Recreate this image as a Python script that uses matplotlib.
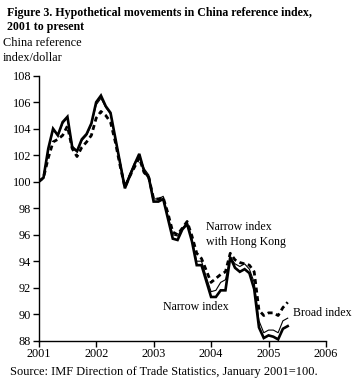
import matplotlib
matplotlib.use("Agg")
import matplotlib.pyplot as plt
import numpy as np

plt.rcParams['font.family'] = ['Liberation Serif', 'DejaVu Serif']

# monthly values, January 2001 = 100
narrow = [100.0, 100.3, 102.5, 104.0, 103.5, 104.5, 104.9, 102.6, 102.3, 103.2,
          103.6, 104.4, 106.0, 106.5, 105.7, 105.2, 103.3, 101.4, 99.5, 100.4,
          101.3, 102.1, 100.8, 100.3, 98.5, 98.5, 98.7, 97.2, 95.7, 95.6,
          96.4, 96.8, 95.5, 93.7, 93.7, 92.5, 91.3, 91.3, 91.8, 91.8,
          94.3, 93.5, 93.2, 93.4, 93.1, 91.9, 89.0, 88.2, 88.4, 88.3,
          88.1, 88.9, 89.1]
narrow_hk = [100.0, 100.3, 102.4, 103.9, 103.5, 104.4, 104.8, 102.7, 102.3, 103.1,
             103.5, 104.3, 105.8, 106.3, 105.6, 105.1, 103.3, 101.5, 99.7, 100.6,
             101.4, 102.0, 101.0, 100.5, 98.7, 98.7, 98.9, 97.4, 96.0, 95.9,
             96.5, 96.9, 95.7, 94.0, 94.0, 92.8, 91.7, 91.8, 92.4, 92.6,
             94.3, 93.8, 93.6, 93.8, 93.4, 92.4, 89.5, 88.6, 88.8, 88.8,
             88.6, 89.5, 89.7]
broad = [100.0, 100.3, 101.8, 103.0, 103.2, 103.5, 104.2, 102.5, 101.9, 102.6,
         103.0, 103.5, 104.8, 105.3, 105.0, 104.5, 103.0, 101.2, 99.6, 100.4,
         101.1, 101.8, 100.7, 100.3, 98.7, 98.7, 98.8, 97.6, 96.2, 96.0,
         96.5, 97.0, 95.9, 94.6, 94.2, 93.3, 92.4, 92.7, 93.0, 93.2,
         94.6, 94.1, 93.9, 93.8, 93.7, 93.2, 90.3, 89.9, 90.1, 90.1,
         89.9, 90.5, 90.9]
dates = 2001 + np.arange(len(narrow)) / 12.0

years = [2001, 2002, 2003, 2004, 2005, 2006]
yticks = [88, 90, 92, 94, 96, 98, 100, 102, 104, 106, 108]

fig = plt.figure(figsize=(3.57, 3.84), dpi=100)
ax = fig.add_axes([0.1084, 0.1128, 0.8048, 0.690])

ax.plot(dates, narrow, color='black', lw=1.9, solid_joinstyle='miter')
ax.plot(dates, broad, color='black', lw=2.0, linestyle=(0, (1.8, 1.3)))
ax.plot(dates, narrow_hk, color='black', lw=0.8)

ax.set_xlim(2001, 2006)
ax.set_ylim(88, 108)
ax.set_xticks(years)
ax.set_yticks(yticks)
ax.set_xticklabels([str(y) for y in years])
ax.tick_params(axis='both', labelsize=8.8, length=4, width=1, direction='out', pad=1.5)
for s in ['top', 'right']:
    ax.spines[s].set_visible(False)
for s in ['left', 'bottom']:
    ax.spines[s].set_linewidth(1)

ax.text(2003.91, 96.6, "Narrow index", fontsize=8.6, va='center')
ax.text(2003.91, 95.47, "with Hong Kong", fontsize=8.6, va='center')
ax.text(2003.17, 90.52, "Narrow index", fontsize=8.6, va='center')
ax.text(2005.42, 90.07, "Broad index", fontsize=8.6, va='center')

fig.text(0.02, 0.958, "Figure 3. Hypothetical movements in China reference index,",
         fontsize=8.55, fontweight='bold', va='baseline')
fig.text(0.02, 0.922, "2001 to present", fontsize=8.55, fontweight='bold', va='baseline')
fig.text(0.008, 0.880, "China reference", fontsize=8.8, va='baseline')
fig.text(0.008, 0.841, "index/dollar", fontsize=8.8, va='baseline')
fig.text(0.028, 0.023, "Source: IMF Direction of Trade Statistics, January 2001=100.",
         fontsize=8.9, va='baseline')

fig.savefig("out.png", dpi=100)
